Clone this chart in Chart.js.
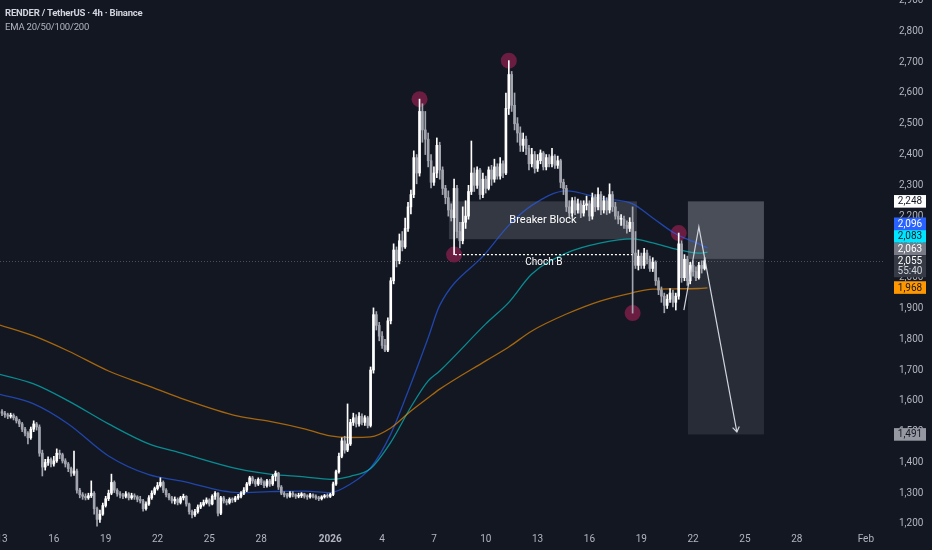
<!DOCTYPE html>
<html lang="en">
<head>
<meta charset="UTF-8">
<title>RENDER / TetherUS 4h</title>
<script src="https://cdn.jsdelivr.net/npm/chart.js@4.4.0/dist/chart.umd.min.js"></script>
<style>
    html, body { margin: 0; padding: 0; background: #131722; }
    #wrap { position: relative; width: 932px; height: 550px; }
    .legend { position: absolute; left: 5px; top: 6px; font-family: Roboto, "Noto Sans", sans-serif; font-size: 9.5px; letter-spacing: -0.2px; pointer-events: none; }
    .legend .t1 { color: #d1d4dc; font-weight: 700; line-height: 14px; }
    .legend .t2 { color: #b2b5be; line-height: 13px; }
</style>
</head>
<body>
<div id="wrap">
    <canvas id="chart"></canvas>
    <div class="legend">
        <div class="t1">RENDER / TetherUS · 4h · Binance</div>
        <div class="t2">EMA 20/50/100/200</div>
    </div>
</div>
<script>
// 4h candles from Dec 13 00:00, open = previous close
const firstOpen = 1565;
const closes = [
    1560,1555,1550,1553,1545,1535,1525,1508,1495,1480,
    1508,1525,1515,1430,1385,1400,1410,1395,1405,1430,
    1425,1405,1395,1380,1365,1372,1310,1295,1290,1285,
    1292,1300,1250,1215,1232,1260,1282,1300,1335,1310,
    1298,1294,1290,1298,1285,1292,1288,1280,1275,1250,
    1265,1285,1300,1315,1325,1335,1310,1295,1285,1275,
    1280,1270,1285,1290,1265,1240,1230,1240,1255,1262,
    1270,1278,1265,1290,1300,1235,1285,1275,1270,1280,
    1278,1285,1290,1300,1310,1330,1350,1340,1330,1345,
    1335,1325,1340,1330,1355,1365,1320,1300,1295,1290,
    1300,1295,1290,1292,1298,1290,1288,1295,1290,1285,
    1282,1288,1292,1290,1296,1330,1370,1420,1470,1440,
    1460,1530,1545,1525,1550,1530,1545,1520,1700,1880,
    1845,1810,1780,1765,1860,1990,2090,2055,2120,2100,
    2160,2230,2270,2390,2340,2540,2480,2450,2380,2310,
    2340,2430,2350,2290,2260,2220,2195,2290,2150,2120,
    2180,2200,2280,2340,2300,2350,2270,2320,2290,2350,
    2320,2360,2330,2370,2340,2550,2660,2560,2500,2470,
    2430,2450,2420,2370,2400,2355,2380,2405,2360,2390,
    2370,2395,2365,2380,2310,2290,2230,2210,2250,2220,
    2240,2210,2235,2240,2200,2260,2230,2270,2220,2250,
    2220,2270,2230,2200,2190,2190,2170,2160,2180,2080,
    2040,2070,2040,2080,2060,2030,2050,1990,1960,1940,
    1910,1930,1950,1920,1940,2110,2000,2060,1990,2040,
    2020,2000,2040,2030,2055
];
const highs = [
    1572,1566,1560,1560,1558,1550,1540,1530,1514,1500,
    1515,1535,1530,1522,1440,1410,1418,1415,1420,1444,
    1440,1430,1412,1400,1385,1437,1378,1316,1302,1298,
    1300,1340,1305,1255,1245,1268,1290,1310,1362,1340,
    1315,1305,1300,1305,1302,1300,1298,1292,1290,1280,
    1272,1292,1308,1320,1335,1350,1340,1315,1300,1290,
    1288,1285,1290,1297,1292,1268,1245,1248,1262,1270,
    1278,1285,1282,1295,1305,1302,1290,1290,1280,1285,
    1285,1290,1296,1305,1318,1335,1355,1355,1345,1350,
    1350,1340,1345,1345,1360,1372,1368,1325,1305,1300,
    1305,1305,1298,1300,1302,1300,1295,1300,1298,1295,
    1290,1292,1296,1298,1300,1336,1375,1430,1480,1485,
    1590,1540,1560,1555,1562,1558,1552,1550,1710,1902,
    1890,1855,1825,1800,1870,2000,2110,2100,2142,2150,
    2194,2245,2285,2412,2400,2580,2565,2540,2470,2400,
    2360,2454,2440,2360,2300,2282,2240,2320,2300,2180,
    2230,2250,2300,2444,2357,2360,2355,2340,2330,2360,
    2365,2385,2370,2390,2380,2600,2705,2670,2600,2520,
    2490,2470,2460,2430,2420,2410,2400,2415,2410,2400,
    2400,2420,2400,2395,2385,2320,2300,2250,2260,2262,
    2255,2250,2250,2265,2250,2275,2270,2292,2280,2265,
    2260,2305,2280,2245,2215,2205,2200,2185,2195,2230,
    2150,2090,2080,2095,2090,2070,2065,2055,2000,1970,
    1950,1945,1965,1960,1950,2145,2120,2075,2070,2050,
    2055,2035,2050,2055,2065
];
const lows = [
    1552,1546,1542,1544,1538,1528,1516,1500,1486,1460,
    1475,1500,1505,1420,1356,1375,1390,1385,1388,1400,
    1412,1398,1385,1370,1355,1358,1300,1285,1280,1278,
    1280,1286,1232,1193,1205,1228,1255,1276,1295,1302,
    1290,1285,1282,1285,1278,1280,1280,1272,1268,1242,
    1245,1260,1280,1295,1310,1320,1302,1288,1278,1268,
    1265,1262,1265,1278,1258,1232,1220,1225,1235,1250,
    1258,1265,1258,1262,1280,1226,1230,1268,1262,1265,
    1270,1272,1280,1285,1295,1305,1325,1332,1322,1325,
    1328,1318,1320,1322,1325,1340,1312,1295,1288,1284,
    1286,1288,1283,1285,1286,1284,1280,1284,1285,1280,
    1276,1278,1284,1285,1286,1292,1325,1365,1415,1430,
    1435,1455,1520,1515,1518,1522,1520,1512,1515,1690,
    1830,1795,1770,1760,1760,1850,1980,2035,2045,2087,
    2095,2150,2207,2260,2305,2330,2440,2400,2360,2292,
    2300,2325,2320,2270,2240,2200,2184,2075,2130,2097,
    2110,2160,2190,2270,2280,2290,2255,2260,2275,2285,
    2300,2310,2320,2320,2325,2335,2530,2540,2480,2440,
    2410,2410,2400,2350,2360,2340,2345,2370,2350,2350,
    2360,2360,2355,2355,2292,2270,2215,2195,2200,2205,
    2210,2195,2200,2220,2185,2190,2215,2220,2205,2210,
    2205,2210,2215,2190,2175,2170,2160,2145,2150,1885,
    2030,2025,2030,2030,2045,2020,2020,1975,1945,1920,
    1886,1900,1920,1905,1895,1930,1985,1990,1975,1980,
    2005,1990,1995,2015,2025
];

// x axis: day offsets from Dec 13 (6 candles per day)
const tickDays = [0, 3, 6, 9, 12, 15, 19, 22, 25, 28, 31, 34, 37, 40, 43, 46, 50];
const tickLabels = ['13', '16', '19', '22', '25', '28', '2026', '4', '7', '10', '13', '16', '19', '22', '25', '28', 'Feb'];
const yTicks = [1200, 1300, 1400, 1500, 1600, 1700, 1800, 1900, 2000, 2100, 2200, 2300, 2400, 2500, 2600, 2700, 2800, 2900];

// EMA lines (candle index, price)
const emaX   = [-1, 11, 23, 37, 51, 62, 82, 93, 105, 114, 121, 128, 135, 142, 148, 152, 168, 176, 184, 196, 208, 219, 226, 234, 242, 245];
const ema50  = [1622, 1590, 1525, 1421, 1360, 1340, 1302, 1305, 1307, 1302, 1330, 1382, 1492, 1655, 1805, 1910, 2080, 2170, 2235, 2282, 2258, 2240, 2194, 2142, 2110, 2096];
const ema100 = [1687, 1655, 1600, 1525, 1460, 1431, 1379, 1362, 1353, 1345, 1355, 1380, 1465, 1580, 1665, 1697, 1850, 1920, 2012, 2080, 2113, 2126, 2113, 2093, 2080, 2083];
const ema200 = [1847, 1811, 1762, 1697, 1648, 1609, 1550, 1533, 1509, 1486, 1481, 1483, 1512, 1567, 1610, 1638, 1730, 1775, 1827, 1882, 1925, 1951, 1963, 1964, 1965, 1967];

// swing markers
const markerX = [145, 176, 157, 219, 235];
const markerPrice = [2580, 2705, 2075, 1885, 2145];

// drawings
const zoneX = [155.2, 220.5];
const zonePrice = [2125, 2248];
const chochX = [157.3, 219];
const chochPrice = 2075;
const tradeX = [238.2, 264.6];
const tradePrice = [2248, 2061, 1491];
const pathX = [236.8, 242, 255.2];
const pathPrice = [1895, 2165, 1499];

// price scale tags
const tagValues = [2248, 2096, 2083, 2063, 1968, 1491];
const tagColors = ['#ffffff', '#2962ff', '#00e5ff', '#787b86', '#ff9800', '#9598a1'];
const tagTextColors = ['#131722', '#ffffff', '#131722', '#ffffff', '#131722', '#131722'];
const countdown = '55:40';

const FONT = 'Roboto, "Noto Sans", sans-serif';
Chart.defaults.font.family = FONT;

const opens = closes.map((c, i) => i === 0 ? firstOpen : closes[i - 1]);
const candleColors = closes.map((c, i) => c >= opens[i] ? '#ffffff' : '#a3a6af');
const lastPrice = closes[closes.length - 1];
const fmt = v => v.toLocaleString('en-US');

function line(xs, ys) {
    return xs.map((x, k) => ({ x: x, y: ys[k] }));
}

const overlay = {
    id: 'overlay',
    beforeDatasetsDraw(chart) {
        const { ctx, chartArea, scales: { x, y } } = chart;
        ctx.save();
        // breaker block zone
        ctx.fillStyle = 'rgba(120,123,134,0.33)';
        ctx.fillRect(x.getPixelForValue(zoneX[0]), y.getPixelForValue(zonePrice[1]),
            x.getPixelForValue(zoneX[1]) - x.getPixelForValue(zoneX[0]),
            y.getPixelForValue(zonePrice[0]) - y.getPixelForValue(zonePrice[1]));
        // short position box
        const tx0 = x.getPixelForValue(tradeX[0]), tx1 = x.getPixelForValue(tradeX[1]);
        const ty0 = y.getPixelForValue(tradePrice[0]), ty1 = y.getPixelForValue(tradePrice[1]), ty2 = y.getPixelForValue(tradePrice[2]);
        ctx.fillStyle = 'rgba(120,123,134,0.55)';
        ctx.fillRect(tx0, ty0, tx1 - tx0, ty1 - ty0);
        ctx.fillStyle = 'rgba(120,123,134,0.22)';
        ctx.fillRect(tx0, ty1, tx1 - tx0, ty2 - ty1);
        // last price line
        const py = Math.round(y.getPixelForValue(lastPrice)) + 0.5;
        ctx.strokeStyle = 'rgba(120,123,134,0.55)';
        ctx.lineWidth = 1;
        ctx.setLineDash([1, 2]);
        ctx.beginPath();
        ctx.moveTo(chartArea.left, py);
        ctx.lineTo(chartArea.right, py);
        ctx.stroke();
        ctx.restore();
    },
    afterDatasetsDraw(chart) {
        const { ctx, scales: { x, y } } = chart;
        ctx.save();
        ctx.fillStyle = '#ffffff';
        ctx.textAlign = 'center';
        ctx.textBaseline = 'middle';
        ctx.font = '11px ' + FONT;
        ctx.fillText('Breaker Block', x.getPixelForValue((zoneX[0] + zoneX[1]) / 2), y.getPixelForValue((zonePrice[0] + zonePrice[1]) / 2));
        ctx.font = '10px ' + FONT;
        ctx.fillText('Choch B', x.getPixelForValue((chochX[0] + chochX[1]) / 2), y.getPixelForValue(chochPrice) + 8);
        // arrow head on projection path
        const n = pathX.length;
        const ex = x.getPixelForValue(pathX[n - 1]), ey = y.getPixelForValue(pathPrice[n - 1]);
        const sx = x.getPixelForValue(pathX[n - 2]), sy = y.getPixelForValue(pathPrice[n - 2]);
        const a = Math.atan2(ey - sy, ex - sx);
        ctx.strokeStyle = '#d1d4dc';
        ctx.lineWidth = 1.2;
        ctx.beginPath();
        ctx.moveTo(ex - 6 * Math.cos(a - 0.6), ey - 6 * Math.sin(a - 0.6));
        ctx.lineTo(ex, ey);
        ctx.lineTo(ex - 6 * Math.cos(a + 0.6), ey - 6 * Math.sin(a + 0.6));
        ctx.stroke();
        ctx.restore();
    },
    afterDraw(chart) {
        const { ctx, scales: { y } } = chart;
        const left = 894, w = 32, h = 12.6;
        const py = y.getPixelForValue(lastPrice);
        const curTop = py - 5.5, curH = 22;
        ctx.save();
        ctx.font = '10px ' + FONT;
        ctx.textAlign = 'center';
        ctx.textBaseline = 'middle';
        const boxes = [];
        // tags above the last price get pushed up so they do not overlap
        let limit = curTop;
        tagValues.map((v, k) => k).filter(k => tagValues[k] > lastPrice)
            .sort((a, b) => tagValues[a] - tagValues[b])
            .forEach(k => {
                let top = y.getPixelForValue(tagValues[k]) - h / 2;
                if (top + h > limit) top = limit - h;
                limit = top;
                boxes.push([k, top]);
            });
        limit = curTop + curH;
        tagValues.map((v, k) => k).filter(k => tagValues[k] < lastPrice)
            .sort((a, b) => tagValues[b] - tagValues[a])
            .forEach(k => {
                let top = y.getPixelForValue(tagValues[k]) - h / 2;
                if (top < limit) top = limit;
                limit = top + h;
                boxes.push([k, top]);
            });
        boxes.forEach(([k, top]) => {
            ctx.fillStyle = tagColors[k];
            ctx.fillRect(left, top, w, h);
            ctx.fillStyle = tagTextColors[k];
            ctx.fillText(fmt(tagValues[k]), left + w / 2, top + h / 2 + 0.5);
        });
        ctx.fillStyle = '#363a45';
        ctx.fillRect(left, curTop, w, curH);
        ctx.fillStyle = '#ffffff';
        ctx.fillText(fmt(lastPrice), left + w / 2, py + 0.5);
        ctx.fillStyle = '#d1d4dc';
        ctx.fillText(countdown, left + w / 2, py + 11);
        ctx.restore();
    }
};

const emaStyle = (color) => ({
    type: 'line', borderColor: color, borderWidth: 1.3, pointRadius: 0,
    cubicInterpolationMode: 'monotone', order: 6
});

new Chart(document.getElementById('chart'), {
    type: 'bar',
    data: {
        datasets: [
            {
                type: 'line',
                data: line(markerX, markerPrice),
                showLine: false,
                pointRadius: 8,
                pointBorderWidth: 0,
                pointBackgroundColor: '#6b1d41',
                order: 10
            },
            Object.assign({ data: line(emaX, ema200) }, emaStyle('rgba(255,152,0,0.62)')),
            Object.assign({ data: line(emaX, ema100) }, emaStyle('rgba(0,220,220,0.6)')),
            Object.assign({ data: line(emaX, ema50) }, emaStyle('rgba(41,98,255,0.62)')),
            {
                data: closes.map((c, i) => ({ x: i, y: [lows[i], highs[i]] })),
                backgroundColor: candleColors,
                barThickness: 1,
                grouped: false,
                order: 3
            },
            {
                data: closes.map((c, i) => ({ x: i, y: [opens[i], c] })),
                backgroundColor: candleColors,
                barThickness: 2,
                minBarLength: 1,
                grouped: false,
                order: 2
            },
            {
                type: 'line',
                data: line(chochX, [chochPrice, chochPrice]),
                borderColor: '#ffffff',
                borderWidth: 1.4,
                borderDash: [2, 2],
                pointRadius: 0,
                order: 1
            },
            {
                type: 'line',
                data: line(pathX, pathPrice),
                borderColor: '#d1d4dc',
                borderWidth: 1.2,
                pointRadius: 0,
                order: 1
            }
        ]
    },
    options: {
        responsive: true,
        maintainAspectRatio: false,
        animation: false,
        events: [],
        layout: { padding: 0, autoPadding: false },
        plugins: {
            legend: { display: false },
            tooltip: { enabled: false }
        },
        scales: {
            x: {
                type: 'linear',
                min: -0.7,
                max: 306.3,
                offset: false,
                grid: { display: false, drawTicks: false },
                border: { display: false },
                afterBuildTicks: (s) => { s.ticks = tickDays.map(d => ({ value: d * 6 })); },
                afterFit: (s) => { s.height = 22; s.paddingLeft = 0; s.paddingRight = 0; },
                ticks: {
                    autoSkip: false,
                    maxRotation: 0,
                    padding: 5,
                    color: '#b2b5be',
                    font: (c) => ({ size: 10, weight: (c.tick && c.tick.label === '2026') ? 'bold' : 'normal' }),
                    callback: (v, i) => tickLabels[i]
                }
            },
            y: {
                type: 'linear',
                position: 'right',
                min: 1187,
                max: 2902,
                grid: { display: false, drawTicks: false },
                border: { display: false },
                afterBuildTicks: (s) => { s.ticks = yTicks.map(v => ({ value: v })); },
                afterFit: (s) => { s.width = 48; s.paddingTop = 0; s.paddingBottom = 0; },
                ticks: {
                    padding: 15,
                    color: '#b2b5be',
                    font: { size: 10 },
                    callback: (v) => fmt(v)
                }
            }
        }
    },
    plugins: [overlay]
});
</script>
</body>
</html>
